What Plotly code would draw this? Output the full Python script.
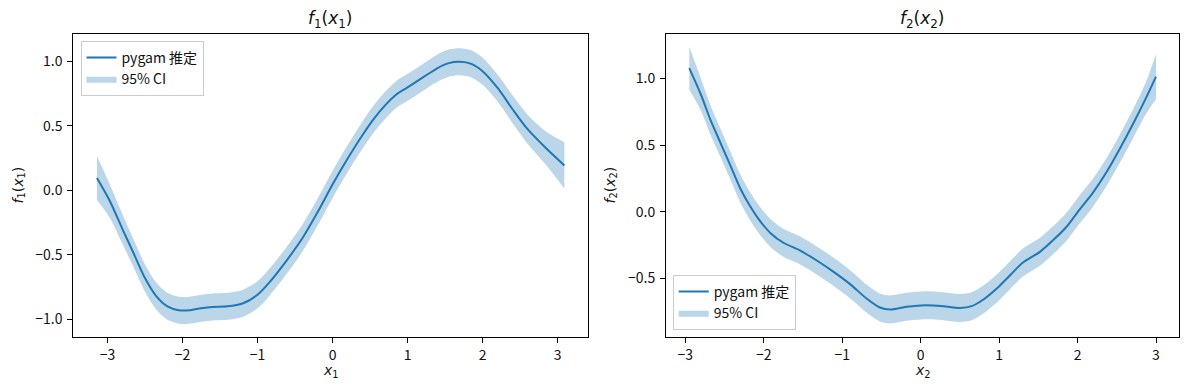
import plotly.graph_objects as go

# ---- data ----
x1 = [-3.14, -2.97, -2.8, -2.65, -2.5, -2.35, -2.2, -2.05, -1.9, -1.75, -1.6, -1.4, -1.2, -1.0,
      -0.85, -0.6, -0.4, -0.2, 0.0, 0.2, 0.4, 0.55, 0.7, 0.85, 1.0, 1.2, 1.4, 1.55, 1.7, 1.85,
      2.0, 2.2, 2.4, 2.6, 2.85, 3.09]
f1 = [0.096, -0.08, -0.30, -0.49, -0.68, -0.82, -0.90, -0.93, -0.93, -0.915, -0.905, -0.90,
      -0.878, -0.81, -0.72, -0.535, -0.37, -0.17, 0.045, 0.245, 0.43, 0.555, 0.66, 0.745, 0.80,
      0.875, 0.95, 0.988, 0.998, 0.982, 0.925, 0.795, 0.63, 0.475, 0.325, 0.194]
ci1 = [0.17, 0.13, 0.115, 0.108, 0.105, 0.105, 0.105, 0.105, 0.105, 0.105, 0.105, 0.105,
       0.105, 0.105, 0.105, 0.105, 0.105, 0.105, 0.105, 0.105, 0.105, 0.105, 0.105, 0.105, 0.105,
       0.105, 0.105, 0.105, 0.105, 0.105, 0.105, 0.105, 0.108, 0.112, 0.13, 0.18]

x2 = [-2.95, -2.8, -2.68, -2.55, -2.42, -2.3, -2.17, -2.04, -1.91, -1.75, -1.53, -1.32, -1.11,
      -0.9, -0.69, -0.52, -0.39, -0.18, 0.06, 0.29, 0.5, 0.65, 0.8, 0.97, 1.14, 1.3, 1.52, 1.69,
      1.86, 2.02, 2.19, 2.36, 2.53, 2.7, 2.87, 3.0]
f2 = [1.076, 0.875, 0.688, 0.513, 0.338, 0.175, 0.038, -0.075, -0.162, -0.232, -0.292, -0.367,
      -0.45, -0.542, -0.65, -0.717, -0.732, -0.712, -0.70, -0.707, -0.72, -0.707, -0.657, -0.575,
      -0.475, -0.382, -0.30, -0.212, -0.112, 0.013, 0.138, 0.288, 0.463, 0.65, 0.85, 1.013]
ci2 = [0.16, 0.12, 0.11, 0.105, 0.105, 0.105, 0.105, 0.105, 0.105, 0.105, 0.105, 0.105, 0.105,
       0.105, 0.105, 0.105, 0.105, 0.105, 0.105, 0.105, 0.105, 0.105, 0.105, 0.105, 0.105, 0.105,
       0.105, 0.105, 0.105, 0.105, 0.105, 0.105, 0.105, 0.108, 0.12, 0.17]

xticks = [-3, -2, -1, 0, 1, 2, 3]
yticks1 = [-1.0, -0.5, 0.0, 0.5, 1.0]
yticks2 = [-0.5, 0.0, 0.5, 1.0]

line_label = "pygam 推定"
ci_label = "95% CI"

BLUE = "#1f77b4"
FILL = "rgba(31,119,180,0.3)"
FONT = "Noto Sans CJK JP, Noto Sans, DejaVu Sans, sans-serif"
MATH = "DejaVu Sans, sans-serif"


def fmt(v):
    s = f"{abs(v):.1f}" if isinstance(v, float) else f"{abs(v)}"
    return ("\u2212" + s) if v < 0 else s


fig = go.Figure()


def add_panel(x, f, ci, xa, ya, legend):
    lo = [a - b for a, b in zip(f, ci)]
    hi = [a + b for a, b in zip(f, ci)]
    fig.add_trace(go.Scatter(x=x, y=lo, mode="lines", line=dict(width=0, shape="spline", smoothing=0.8),
                             showlegend=False, hoverinfo="skip", xaxis=xa, yaxis=ya))
    fig.add_trace(go.Scatter(x=x, y=hi, mode="lines", line=dict(width=0, shape="spline", smoothing=0.8),
                             fill="tonexty", fillcolor=FILL, name=ci_label, legend=legend,
                             legendrank=2, xaxis=xa, yaxis=ya))
    fig.add_trace(go.Scatter(x=x, y=f, mode="lines", line=dict(color=BLUE, width=2, shape="spline", smoothing=0.8),
                             name=line_label, legend=legend, legendrank=1, xaxis=xa, yaxis=ya))


add_panel(x1, f1, ci1, "x", "y", "legend")
add_panel(x2, f2, ci2, "x2", "y2", "legend2")

W, H = 1190, 390
L1, R1 = 73.3, 588.0
L2, R2 = 666.0, 1179.3
T, B = 34.0, 337.0
yd = [1 - B / H, 1 - T / H]

axis_common = dict(showline=True, linecolor="black", linewidth=1, mirror=True, ticks="outside",
                   ticklen=5, tickwidth=1, tickcolor="black", showgrid=False, zeroline=False,
                   automargin=False, tickfont=dict(family=FONT, size=14, color="#111"))

leg_common = dict(bordercolor="#cccccc", borderwidth=1, bgcolor="rgba(255,255,255,0.8)",
                  font=dict(family=FONT, size=14, color="#111"), itemwidth=30, tracegroupgap=0,
                  traceorder="normal")

fig.update_layout(
    width=W, height=H, margin=dict(l=0, r=0, t=0, b=0, autoexpand=False),
    paper_bgcolor="white", plot_bgcolor="white",
    xaxis=dict(domain=[L1 / W, R1 / W], range=[-3.455, 3.405], anchor="y",
               tickvals=xticks, ticktext=[fmt(v) for v in xticks], **axis_common),
    yaxis=dict(domain=yd, range=[-1.138, 1.214], anchor="x", ticklabelstandoff=2,
               tickvals=yticks1, ticktext=[fmt(v) for v in yticks1], **axis_common),
    xaxis2=dict(domain=[L2 / W, R2 / W], range=[-3.247, 3.297], anchor="y2",
                tickvals=xticks, ticktext=[fmt(v) for v in xticks], **axis_common),
    yaxis2=dict(domain=yd, range=[-0.938, 1.332], anchor="x2", ticklabelstandoff=2,
                tickvals=yticks2, ticktext=[fmt(v) for v in yticks2], **axis_common),
    legend=dict(x=80.5 / W, y=1 - 41 / H, xanchor="left", yanchor="top", **leg_common),
    legend2=dict(x=672.7 / W, y=1 - 330 / H, xanchor="left", yanchor="bottom", **leg_common),
    showlegend=True,
)

ann_font = dict(family=MATH, size=14, color="#111")
title_font = dict(family=MATH, size=17, color="#111")


def ann(text, px, py, font, angle=0):
    fig.add_annotation(text=text, x=px / W, y=1 - py / H, xref="paper", yref="paper",
                       xanchor="center", yanchor="middle", showarrow=False, font=font,
                       textangle=angle)


ann("<i>f</i><sub>1</sub>(<i>x</i><sub>1</sub>)", (L1 + R1) / 2, 19, title_font)
ann("<i>f</i><sub>2</sub>(<i>x</i><sub>2</sub>)", (L2 + R2) / 2, 19, title_font)
ann("<i>x</i><sub>1</sub>", (L1 + R1) / 2, 371, ann_font)
ann("<i>x</i><sub>2</sub>", (L2 + R2) / 2, 371, ann_font)
ann("<i>f</i><sub>1</sub>(<i>x</i><sub>1</sub>)", 18, (T + B) / 2, ann_font, -90)
ann("<i>f</i><sub>2</sub>(<i>x</i><sub>2</sub>)", 610, (T + B) / 2, ann_font, -90)

fig.write_html("out.html", config={"displayModeBar": False},
               post_script="document.body.style.margin='0';")
